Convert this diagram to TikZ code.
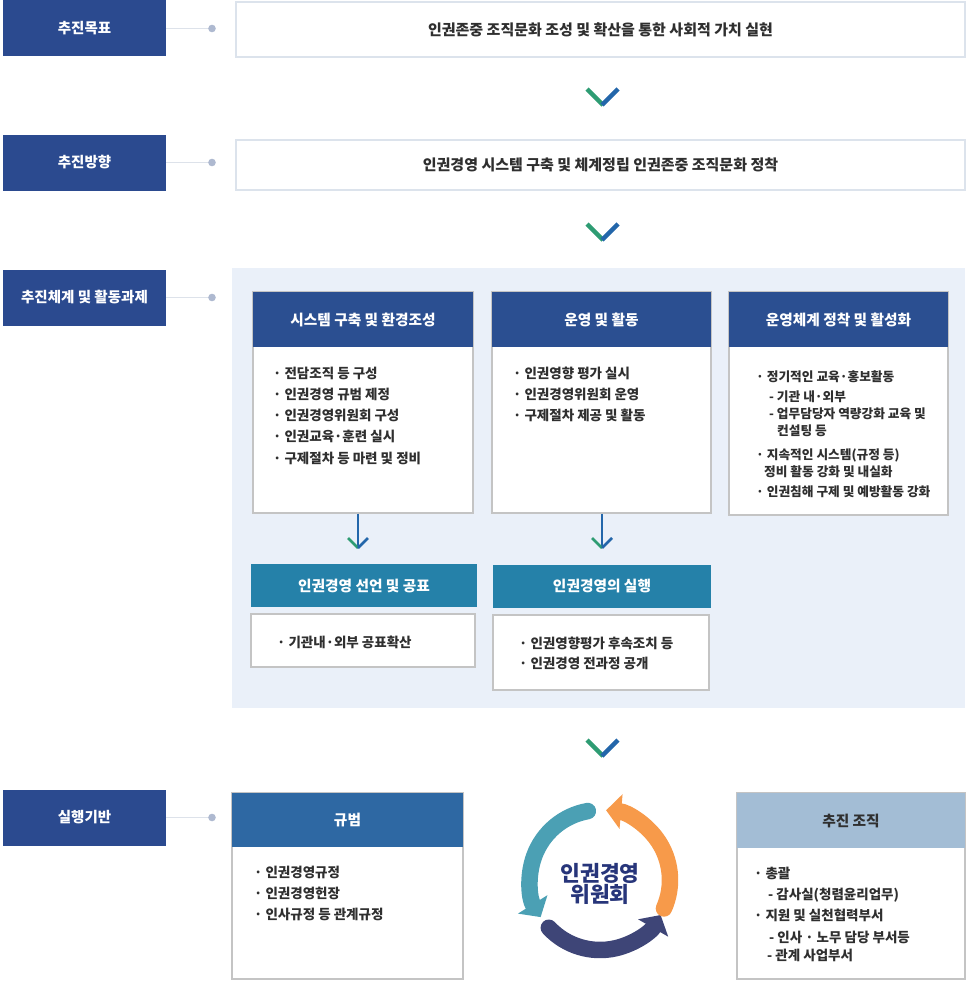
\documentclass[tikz,border=0pt]{standalone}
\usepackage{fontspec}
\setmainfont{Noto Sans CJK KR}
\usetikzlibrary{arrows.meta, positioning}

\definecolor{navyLbl}{HTML}{2B4A8F}
\definecolor{navyHdr}{HTML}{2B4F91}
\definecolor{tealHdr}{HTML}{2581A9}
\definecolor{normHdr}{HTML}{2E68A3}
\definecolor{orgHdr}{HTML}{A3BDD5}
\definecolor{panelBg}{HTML}{EAF0F9}
\definecolor{frameGray}{HTML}{C4C4C4}
\definecolor{frameLight}{HTML}{DCE3EC}
\definecolor{linkGray}{HTML}{DDE2EA}
\definecolor{dotBlue}{HTML}{AEB9D0}
\definecolor{chevGreen}{HTML}{2E9C73}
\definecolor{chevBlue}{HTML}{2366AA}
\definecolor{txtDark}{HTML}{2F2F2F}
\definecolor{wheelTeal}{HTML}{4BA0B4}
\definecolor{wheelNavy}{HTML}{3E4577}
\definecolor{wheelOrange}{HTML}{F79A4A}
\definecolor{wheelText}{HTML}{27357A}

\begin{document}
\begin{tikzpicture}[x=1pt, y=-1pt,
    lbl/.style={fill=navyLbl, text=white, minimum width=163pt, minimum height=56pt, inner sep=0pt, font=\fontsize{14.5}{16}\selectfont\bfseries},
    topbox/.style={draw=frameLight, line width=1.5pt, fill=white, minimum width=729pt, inner sep=0pt, text=txtDark, font=\fontsize{15}{17}\selectfont\bfseries},
    hdr/.style={fill=navyHdr, text=white, inner sep=0pt, font=\fontsize{14.7}{17}\selectfont\bfseries},
    body/.style={draw=frameGray, line width=1.3pt, fill=white, inner sep=0pt},
    items/.style={anchor=north west, align=left, inner sep=0pt, text=txtDark, font=\fontsize{13.5}{21.3}\selectfont\bfseries},
    link/.style={draw=linkGray, line width=1pt},
    chevL/.style={draw=chevGreen, line width=4.5pt},
    chevR/.style={draw=chevBlue, line width=4.5pt},
    arm/.style={line width=2.8pt},
    wheel/.style={line width=16.5pt, -{Triangle[width=34pt,length=15pt]}}
  ]
    \useasboundingbox (0,0) rectangle (971,982);

    % Left labels
    \node[lbl] (lblGoal) at (84.5,28.5) {추진목표};
    \node[lbl] (lblDir) at (84.5,162.5) {추진방향};
    \node[lbl] (lblSys) at (84.5,297.5) {추진체계 및 활동과제};
    \node[lbl] (lblBase) at (84.5,817.5) {실행기반};
    \foreach \n/\y in {Goal/28.5, Dir/162.5, Sys/297.5, Base/817.5} {
      \coordinate (dot\n) at (212,\y);
      \draw[link] (lbl\n.east) -- (dot\n);
      \fill[dotBlue] (dot\n) circle (3.8pt);
    }

    % Goal and direction
    \node[topbox, minimum height=55pt] (goalBox) at (600.5,29.5) {인권존중 조직문화 조성 및 확산을 통한 사회적 가치 실현};
    \node[topbox, minimum height=50pt] (dirBox) at (600.5,165) {인권경영 시스템 구축 및 체계정립 인권존중 조직문화 정착};

    % Chevrons between rows
    \foreach \cy in {97, 232, 748} {
      \draw[chevL] (587,\cy-8) -- (603,\cy+8);
      \draw[chevR] (602,\cy+8) -- (618,\cy-8);
    }

    % Panel of tasks
    \fill[panelBg] (232,268) rectangle (965,708);

    % Three columns
    \node[body, minimum width=220pt, minimum height=221pt] (sysBody) at (363,402.5) {};
    \node[hdr, minimum width=220pt, minimum height=55pt] (sysHdr) at (363,319.5) {시스템 구축 및 환경조성};
    \node[items] (sysList) at (273,366.5) {· 전담조직 등 구성\\· 인권경영 규범 제정\\· 인권경영위원회 구성\\· 인권교육·훈련 실시\\· 구제절차 등 마련 및 정비};

    \node[body, minimum width=219pt, minimum height=221pt] (opBody) at (601.5,402.5) {};
    \node[hdr, minimum width=219pt, minimum height=55pt] (opHdr) at (601.5,319.5) {운영 및 활동};
    \node[items] (opList) at (513,366.5) {· 인권영향 평가 실시\\· 인권경영위원회 운영\\· 구제절차 제공 및 활동};

    \node[body, minimum width=219pt, minimum height=223pt] (stabBody) at (838.5,403.5) {};
    \node[hdr, minimum width=219pt, minimum height=55pt] (stabHdr) at (838.5,319.5) {운영체계 정착 및 활성화};
    \node[items, font=\fontsize{12.7}{17}\selectfont\bfseries] (stabList) at (756,370.5) {· 정기적인 교육·홍보활동\\[3pt]
      \hspace*{13pt}- 기관 내·외부\\
      \hspace*{13pt}- 업무담당자 역량강화 교육 및\\
      \hspace*{21pt}컨설팅 등\\[7pt]
      · 지속적인 시스템(규정 등)\\
      \hspace*{8pt}정비 활동 강화 및 내실화\\[3pt]
      · 인권침해 구제 및 예방활동 강화};

    % Declaration and implementation
    \node[body, minimum width=224pt, minimum height=53pt] (declBody) at (363,640.5) {};
    \node[hdr, fill=tealHdr, minimum width=226pt, minimum height=43pt] (declHdr) at (364,585.5) {인권경영 선언 및 공표};
    \node[items] (declList) at (277,635.5) {· 기관내·외부 공표확산};

    \node[body, minimum width=216pt, minimum height=75pt] (implBody) at (601,652.5) {};
    \node[hdr, fill=tealHdr, minimum width=218pt, minimum height=43pt] (implHdr) at (602,586) {인권경영의 실행};
    \node[items, font=\fontsize{13.5}{20.5}\selectfont\bfseries] (implList) at (519,636.5) {· 인권영향평가 후속조치 등\\· 인권경영 전과정 공개};

    % Down arrows
    \foreach \a/\b/\ax in {sysBody/declHdr/358, opBody/implHdr/602} {
      \coordinate (tip\a) at (\ax,548);
      \draw[chevBlue, arm] (\a.south -| tip\a) -- (tip\a);
      \draw[chevGreen, arm] (\ax-10,538) -- (tip\a);
      \draw[chevBlue, arm] (tip\a) -- (\ax+10,538);
    }

    % Foundation: rules
    \node[body, minimum width=231pt, minimum height=186pt] (normBody) at (347.5,886) {};
    \node[hdr, fill=normHdr, minimum width=231pt, minimum height=54pt] (normHdr) at (347.5,820) {규범};
    \node[items] (normList) at (254,865.5) {· 인권경영규정\\· 인권경영헌장\\· 인사규정 등 관계규정};

    % Foundation: organisation
    \node[body, minimum width=228pt, minimum height=186pt] (orgBody) at (851,886) {};
    \node[hdr, fill=orgHdr, text=txtDark, minimum width=228pt, minimum height=55pt] (orgHdr) at (851,820.5) {추진 조직};
    \node[items, font=\fontsize{13.5}{21}\selectfont\bfseries] (orgList) at (754,866.5) {· 총괄\\
      \hspace*{14pt}- 감사실(청렴윤리업무)\\
      · 지원 및 실천협력부서\\[1pt]
      \hspace*{15pt}- 인사 · 노무 담당 부서등\\[-3pt]
      \hspace*{13pt}- 관계 사업부서};

    % Committee wheel
    \coordinate (wheel) at (600,880);
    \draw[wheel, wheelTeal, line cap=round] ([shift={(100:70pt)}]wheel) arc[start angle=100, end angle=212, radius=70pt];
    \draw[wheel, wheelNavy, line cap=round] ([shift={(223:70pt)}]wheel) arc[start angle=223, end angle=330, radius=70pt];
    \draw[wheel, wheelOrange, line cap=round] ([shift={(336:70pt)}]wheel) arc[start angle=336, end angle=445, radius=70pt];
    \node[text=wheelText, align=center, font=\fontsize{21.5}{21}\selectfont\bfseries] (committee) at (600,884) {인권경영\\위원회};
\end{tikzpicture}
\end{document}
